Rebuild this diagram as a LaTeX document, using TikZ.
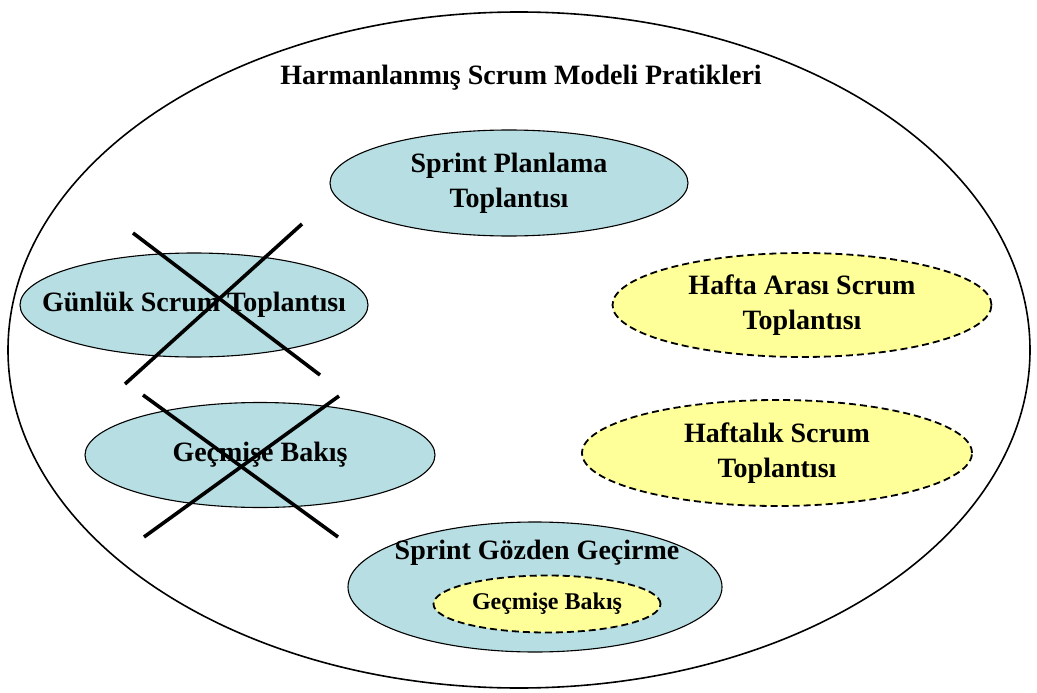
\documentclass[tikz,border=0pt]{standalone}
\usepackage{fontspec}
\setmainfont{Liberation Serif}
\usetikzlibrary{shapes.geometric}
\definecolor{mcyan}{HTML}{B7DEE2}
\definecolor{myellow}{HTML}{FFFF99}

\begin{document}
\begin{tikzpicture}[x=1pt, y=-1pt,
    every node/.style={font=\fontsize{28}{35}\selectfont\bfseries, align=center},
    blueell/.style={ellipse, draw, line width=1.1pt, fill=mcyan, inner sep=0pt},
    yellowell/.style={ellipse, draw, line width=1.8pt, dash pattern=on 7pt off 4pt, fill=myellow, inner sep=0pt},
    crossline/.style={line width=3.6pt}]
  \useasboundingbox (0,0) rectangle (1037,693);
  \node [ellipse, draw, line width=1.6pt, minimum width=1022, minimum height=676] (outer) at (519,350) {};
  \node (title) at (521,78) {Harmanlanmış Scrum Modeli Pratikleri};

  \node [blueell, minimum width=358, minimum height=106] (planlama) at (509,183) {};
  \node (planlamatext) at (planlama) {Sprint Planlama\\Toplantısı};
  \node [blueell, minimum width=348, minimum height=104] (gunluk) at (194,305) {};
  \node (gunluktext) at (gunluk) {Günlük Scrum Toplantısı};
  \node [blueell, minimum width=350, minimum height=105] (bakis) at (260,455) {};
  \node (bakistext) at (bakis) {Geçmişe Bakış};
  \node [yellowell, minimum width=379, minimum height=104] (araci) at (802,305) {};
  \node (aracitext) at (araci) {Hafta Arası Scrum\\Toplantısı};
  \node [yellowell, minimum width=390, minimum height=106] (haftalik) at (777,453) {};
  \node (haftaliktext) at (haftalik) {Haftalık Scrum\\Toplantısı};
  \node [blueell, minimum width=374, minimum height=130] (gozden) at (535,587) {};
  \node (gozdentext) at (537,553) {Sprint Gözden Geçirme};
  \node [yellowell, minimum width=227, minimum height=57] (icbakis) at (547,604) {};
  \node [font=\fontsize{24}{28}\selectfont\bfseries] (icbakistext) at (icbakis) {Geçmişe Bakış};

  \draw [crossline] (133,233) -- (320,375);
  \draw [crossline] (302,224) -- (125,384);
  \draw [crossline] (143,395) -- (338,537);
  \draw [crossline] (339,396) -- (144,537);
\end{tikzpicture}
\end{document}
